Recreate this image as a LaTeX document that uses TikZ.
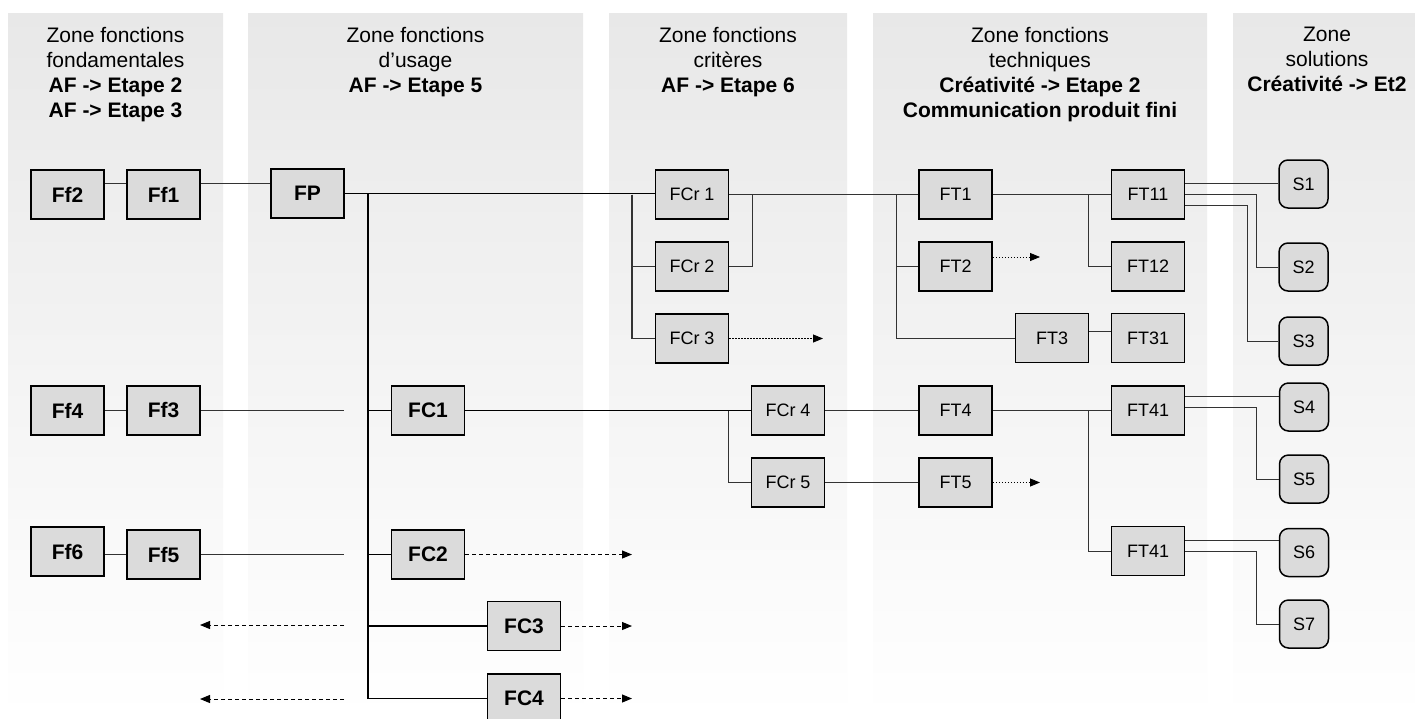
\documentclass[tikz,border=0pt]{standalone}
\usepackage{fontspec}
\setmainfont{Liberation Sans}
\usetikzlibrary{arrows.meta}
\begin{document}
\begin{tikzpicture}[x=1pt,y=-1pt,
  zone/.style={top color=black!9,bottom color=white,draw=none},
  hdr/.style={font=\fontsize{21}{25}\selectfont,align=center,anchor=north,inner sep=0pt},
  boxb/.style={draw=black,line width=1.7pt,fill=black!14,minimum width=73pt,minimum height=49pt,inner sep=0pt,font=\fontsize{21}{25}\selectfont\bfseries},
  boxr/.style={boxb,line width=1.5pt,font=\fontsize{18}{22}\selectfont},
  sol/.style={boxr,rounded corners=9pt,minimum width=49pt,minimum height=48pt},
  ln/.style={line width=0.9pt,draw=black!80},
  trunk/.style={line width=1.6pt,draw=black},
  dsh/.style={line width=1pt,dash pattern=on 4pt off 3pt,-{Triangle[length=10pt,width=8pt]}},
  dotarr/.style={line width=0.8pt,dash pattern=on 1.5pt off 1.5pt,-{Triangle[length=10pt,width=8pt]}}
]
\useasboundingbox (0,0) rectangle (1415,718);
\fill[white] (0,0) rectangle (1415,718);
% zones
\shade[zone] (8,13) rectangle (223,718);
\shade[zone] (248,13) rectangle (583,718);
\shade[zone] (609,13) rectangle (847,718);
\shade[zone] (873,13) rectangle (1207,718);
\shade[zone] (1233,13) rectangle (1425,718);
% headers
\node[hdr] (h1) at (115.5,27) {Zone fonctions\\fondamentales\\\textbf{AF -> Etape 2}\\\textbf{AF -> Etape 3}};
\node[hdr] (h2) at (415.5,27) {Zone fonctions\\d’usage\\\textbf{AF -> Etape 5}};
\node[hdr] (h3) at (728,27) {Zone fonctions\\critères\\\textbf{AF -> Etape 6}};
\node[hdr] (h4) at (1040,27) {Zone fonctions\\techniques\\\textbf{Créativité -> Etape 2}\\\textbf{Communication produit fini}};
\node[hdr] (h5) at (1327,27) {Zone\\solutions\\\textbf{Créativité -> Et2}};
% bold boxes
\node[boxb] (Ff2) at (67.5,194.5) {Ff2};
\node[boxb] (Ff1) at (163.5,194.5) {Ff1};
\node[boxb] (FP) at (307.5,193.5) {FP};
\node[boxb] (Ff4) at (67.5,410.5) {Ff4};
\node[boxb] (Ff3) at (163.5,410.5) {Ff3};
\node[boxb] (FC1) at (428,410.5) {FC1};
\node[boxb] (Ff6) at (67.5,551.5) {Ff6};
\node[boxb] (Ff5) at (163.5,554.5) {Ff5};
\node[boxb] (FC2) at (428,554.5) {FC2};
\node[boxb] (FC3) at (524,626) {FC3};
\node[boxb] (FC4) at (524,698.5) {FC4};
% regular boxes
\node[boxr] (FCr1) at (692,194.5) {FCr 1};
\node[boxr] (FCr2) at (692,266.5) {FCr 2};
\node[boxr] (FCr3) at (692,338.5) {FCr 3};
\node[boxr] (FT1) at (955.5,194.5) {FT1};
\node[boxr] (FT2) at (955.5,266.5) {FT2};
\node[boxr] (FT3) at (1052,338) {FT3};
\node[boxr] (FT31) at (1148,338) {FT31};
\node[boxr] (FT11) at (1148,194.5) {FT11};
\node[boxr] (FT12) at (1148,266.5) {FT12};
\node[boxr] (FCr4) at (788,410.5) {FCr 4};
\node[boxr] (FCr5) at (788,482.5) {FCr 5};
\node[boxr] (FT4) at (955.5,410.5) {FT4};
\node[boxr] (FT5) at (955.5,482.5) {FT5};
\node[boxr] (FT41a) at (1148,410.5) {FT41};
\node[boxr] (FT41b) at (1148,551) {FT41};
% solutions
\node[sol] (S1) at (1303.5,184) {S1};
\node[sol] (S2) at (1303.5,267) {S2};
\node[sol] (S3) at (1303.5,341) {S3};
\node[sol] (S4) at (1304,407) {S4};
\node[sol] (S5) at (1304,479) {S5};
\node[sol] (S6) at (1304,552.5) {S6};
\node[sol] (S7) at (1304,624) {S7};
% branch points and free ends
\coordinate (b0) at (368,193.5);
\coordinate (b1) at (632,194.5);
\coordinate (b2) at (752,194.5);
\coordinate (b3) at (896,194.5);
\coordinate (b4) at (1088,194.5);
\coordinate (b6) at (728,410.5);
\coordinate (b7) at (1088,410.5);
\coordinate (e3) at (344,410.5);
\coordinate (e5) at (344,554.5);
\coordinate (l1s) at (344,625);
\coordinate (l1e) at (200,625);
\coordinate (l2s) at (344,699);
\coordinate (l2e) at (200,699);
\coordinate (aFCr3) at (823,338.5);
\coordinate (aFT2) at (1040,257);
\coordinate (aFT5) at (1040,482.5);
\coordinate (aFC2) at (632,554.5);
\coordinate (aFC3) at (632,626);
\coordinate (aFC4) at (632,698.5);
% connectors
\draw[ln] (Ff2.east |- 0,183) -- (Ff1.west |- 0,183);
\draw[ln] (Ff1.east |- 0,183) -- (FP.west |- 0,183);
\draw[trunk] (FP.east) -- (FCr1.west |- FP.east);
\draw[trunk,line width=2pt] (b0) -- (368,699);
\draw[trunk] (b0) |- (FC1.west);
\draw[trunk] (b0) |- (FC2.west);
\draw[trunk] (b0) |- (FC3.west);
\draw[trunk] (b0) |- (FC4.west);
\draw[ln,line width=1.2pt] (b1) |- (FCr2.west);
\draw[ln,line width=1.2pt] (b1) |- (FCr3.west);
\draw[ln,line width=1.2pt] (FCr1.east) -- (FT1.west);
\draw[ln] (FCr2.east) -| (b2);
\draw[dotarr] (FCr3.east) -- (aFCr3);
\draw[ln] (b3) |- (FT2.west);
\draw[ln] (b3) |- (FT3.west);
\draw[dotarr] (FT2.east |- aFT2) -- (aFT2);
\draw[ln] (FT3.east |- 0,331) -- (FT31.west |- 0,331);
\draw[ln] (FT1.east) -- (FT11.west);
\draw[ln] (b4) |- (FT12.west);
\draw[ln] (FT11.east |- 0,183) -- (S1.west |- 0,183);
\draw[ln] (FT11.east |- 0,194) -- (1256,194) |- (S2.west);
\draw[ln] (FT11.east |- 0,205.5) -- (1247,205.5) |- (S3.west);
\draw[ln] (Ff4.east) -- (Ff3.west);
\draw[ln] (Ff3.east) -- (e3);
\draw[ln] (Ff6.east |- Ff5.west) -- (Ff5.west);
\draw[ln] (Ff5.east) -- (e5);
\draw[dsh] (l1s) -- (l1e);
\draw[dsh] (l2s) -- (l2e);
\draw[trunk,line width=1.3pt] (FC1.east) -- (FCr4.west);
\draw[ln] (b6) |- (FCr5.west);
\draw[ln] (FCr4.east) -- (FT4.west);
\draw[ln] (FCr5.east) -- (FT5.west);
\draw[dotarr] (FT5.east) -- (aFT5);
\draw[ln] (FT4.east) -- (FT41a.west);
\draw[ln] (b7) |- (FT41b.west);
\draw[ln] (FT41a.east |- 0,396) -- (S4.west |- 0,396);
\draw[ln] (FT41a.east |- 0,407) -- (1256,407) |- (S5.west);
\draw[ln] (FT41b.east |- 0,540) -- (S6.west |- 0,540);
\draw[ln] (FT41b.east |- 0,551) -- (1256,551) |- (S7.west);
\draw[dsh] (FC2.east) -- (aFC2);
\draw[dsh] (FC3.east) -- (aFC3);
\draw[dsh] (FC4.east) -- (aFC4);
\end{tikzpicture}
\end{document}
